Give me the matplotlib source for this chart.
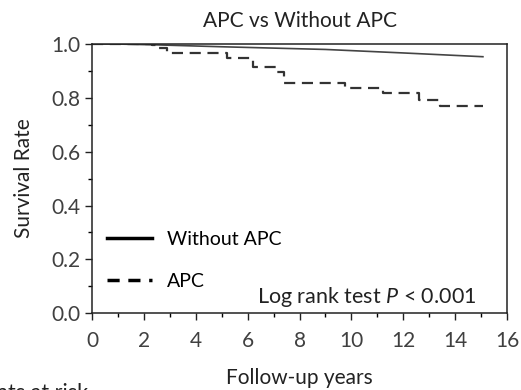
import numpy as np
import matplotlib
matplotlib.use("Agg")
import matplotlib.pyplot as plt
from matplotlib.lines import Line2D
from matplotlib.ticker import MultipleLocator, FormatStrFormatter

plt.rcParams['font.family'] = ['Lato', 'DejaVu Sans']
plt.rcParams['mathtext.fontset'] = 'custom'
plt.rcParams['mathtext.rm'] = 'Lato'
plt.rcParams['mathtext.it'] = 'Lato:italic'

# Kaplan-Meier steps
apc_years = [0, 2.3, 2.6, 2.9, 5.2, 6.2, 7.1, 7.4, 9.75, 11.2, 12.6, 13.4, 15.07]
apc_surv = [1.0, 0.995, 0.985, 0.968, 0.947, 0.913, 0.897, 0.856, 0.837, 0.817, 0.792, 0.771, 0.771]

noapc_years = [0, 1.0, 2.5, 5.0, 9.0, 12.0, 15.07]
noapc_surv = [1.0, 1.0, 0.997, 0.99, 0.98, 0.967, 0.953]

fig = plt.figure(figsize=(5.21, 3.9), dpi=100)
ax = fig.add_axes([0.1766, 0.197, 0.7966, 0.69])

ax.plot(noapc_years, noapc_surv, color='#444444', lw=1.2)
ax.step(apc_years, apc_surv, where='post', color='#333333', lw=1.6, linestyle=(0, (5, 3)))

ax.set_xlim(0, 16)
ax.set_ylim(0, 1.0)
ax.xaxis.set_major_locator(MultipleLocator(2))
ax.xaxis.set_minor_locator(MultipleLocator(1))
ax.yaxis.set_major_locator(MultipleLocator(0.2))
ax.yaxis.set_minor_locator(MultipleLocator(0.1))
ax.yaxis.set_major_formatter(FormatStrFormatter('%.1f'))
ax.tick_params(which='major', direction='out', length=5, width=1, labelsize=15,
               colors='#222222', labelcolor='#404040')
ax.tick_params(axis='x', which='major', pad=8)
ax.tick_params(which='minor', direction='out', length=3, width=1)
for s in ax.spines.values():
    s.set_color('#222222')
    s.set_linewidth(1.1)

ax.set_title('APC vs Without APC', fontsize=15, pad=12, color='#222222')
ax.set_ylabel('Survival Rate', fontsize=15, labelpad=12, color='#222222')
ax.set_xlabel('Follow-up years', fontsize=15, labelpad=12, color='#222222')

handles = [Line2D([], [], color='black', lw=2.5),
           Line2D([], [], color='black', lw=2.5, linestyle=(0, (3.5, 2.5)))]
ax.legend(handles, ['Without APC', 'APC'], loc='lower left', frameon=False,
          bbox_to_anchor=(-0.02, 0.0), fontsize=14, handlelength=2.3,
          handletextpad=0.8, labelspacing=1.3, borderaxespad=0.8)

ax.text(6.36, 0.06, 'Log rank test $P$ < 0.001', fontsize=15.5, va='center', ha='left',
        color='#222222')

fig.text(88 / 521, -0.022, 'Patients at risk', fontsize=15.5, ha='right', va='baseline',
         color='#222222')

fig.savefig('out.png', dpi=100)
